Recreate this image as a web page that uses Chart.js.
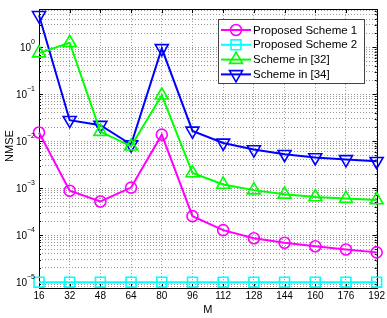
<!DOCTYPE html>
<html>
<head>
<meta charset="utf-8">
<script src="https://cdn.jsdelivr.net/npm/chart.js@4.4.1/dist/chart.umd.min.js"></script>
<style>
  html, body { margin: 0; padding: 0; background: #fff; }
  #c { display: block; }
</style>
</head>
<body>
<canvas id="c" width="387" height="318"></canvas>
<script>
// ---------- Data ----------
const mValues = [16, 32, 48, 64, 80, 96, 112, 128, 144, 160, 176, 192];
const proposed1 = [0.0153, 0.00088, 0.00052, 0.00103, 0.0138, 0.000254, 0.000128, 0.000086, 0.000069, 0.000058, 0.0000495, 0.000043];
const proposed2 = [1e-5, 1e-5, 1e-5, 1e-5, 1e-5, 1e-5, 1e-5, 1e-5, 1e-5, 1e-5, 1e-5, 1e-5];
const scheme32 = [0.75, 1.25, 0.016, 0.0078, 0.095, 0.0021, 0.0012, 0.00091, 0.00074, 0.00065, 0.0006, 0.00056];
const scheme34 = [4.8, 0.028, 0.022, 0.0085, 0.95, 0.0166, 0.0092, 0.00665, 0.00528, 0.0045, 0.0041, 0.00375];
const yDecades = [0, -1, -2, -3, -4, -5];
const seriesNames = ['Proposed Scheme 1', 'Proposed Scheme 2', 'Scheme in [32]', 'Scheme in [34]'];

const FONT = '"Liberation Sans", Arial, Helvetica, sans-serif';

// ---------- Helpers ----------
function drawMarker(ctx, style, x, y, r, rot) {
    ctx.beginPath();
    if (style === 'circle') {
        ctx.arc(x, y, r, 0, Math.PI * 2);
    } else if (style === 'rect') {
        const s = r * Math.SQRT1_2;
        ctx.rect(x - s, y - s, 2 * s, 2 * s);
    } else {
        let a = (rot || 0) * Math.PI / 180;
        for (let i = 0; i < 3; i++) {
            const px = x + Math.sin(a) * r, py = y - Math.cos(a) * r;
            if (i) ctx.lineTo(px, py); else ctx.moveTo(px, py);
            a += 2 * Math.PI / 3;
        }
        ctx.closePath();
    }
    ctx.stroke();
}

// matlab-ish frame: box, inward ticks, y labels with exponents, titles, legend
const matlabFrame = {
    id: 'matlabFrame',
    beforeDatasetsDraw(chart) {
        const ctx = chart.ctx;
        const a = chart.chartArea;
        const xs = chart.scales.x, ys = chart.scales.y;
        ctx.save();
        ctx.strokeStyle = '#000';
        ctx.lineWidth = 1;
        ctx.strokeRect(Math.round(a.left) + 0.5, Math.round(a.top) + 0.5,
            Math.round(a.right - a.left), Math.round(a.bottom - a.top));
        ctx.beginPath();
        mValues.forEach((m, i) => {
            const px = Math.round(xs.getPixelForValue(i)) + 0.5;
            ctx.moveTo(px, a.bottom); ctx.lineTo(px, a.bottom - 4);
            ctx.moveTo(px, a.top); ctx.lineTo(px, a.top + 4);
        });
        ys.ticks.forEach(t => {
            const py = Math.round(ys.getPixelForValue(t.value)) + 0.5;
            const major = Math.abs(Math.log10(t.value) - Math.round(Math.log10(t.value))) < 1e-9;
            const len = major ? 4 : 2;
            ctx.moveTo(a.left, py); ctx.lineTo(a.left + len, py);
            ctx.moveTo(a.right, py); ctx.lineTo(a.right - len, py);
        });
        ctx.stroke();
        ctx.restore();
    },
    afterDraw(chart) {
        const ctx = chart.ctx;
        const a = chart.chartArea;
        const ys = chart.scales.y;
        ctx.save();
        ctx.fillStyle = '#000';
        // y tick labels 10^k
        yDecades.forEach(e => {
            const py = ys.getPixelForValue(Math.pow(10, e));
            const sup = e < 0 ? '\u2212' + Math.abs(e) : String(e);
            ctx.font = '7px ' + FONT;
            const supW = ctx.measureText(sup).width;
            const right = a.left - 4;
            ctx.textBaseline = 'middle';
            ctx.textAlign = 'left';
            ctx.fillText(sup, right - supW, py - 5);
            ctx.font = '10px ' + FONT;
            ctx.textAlign = 'right';
            ctx.fillText('10', right - supW, py + 1);
        });
        // axis titles
        ctx.font = '11px ' + FONT;
        ctx.textAlign = 'center';
        ctx.textBaseline = 'middle';
        ctx.fillText('M', (a.left + a.right) / 2, 310);
        ctx.translate(10, 146);
        ctx.rotate(-Math.PI / 2);
        ctx.fillText('NMSE', 0, 0);
        ctx.setTransform(1, 0, 0, 1, 0, 0);

        // legend
        const bx = 218.5, by = 19.5, bw = 146, bh = 64;
        ctx.fillStyle = '#fff';
        ctx.fillRect(bx, by, bw, bh);
        ctx.strokeStyle = '#444';
        ctx.lineWidth = 1;
        ctx.strokeRect(bx, by, bw, bh);
        chart.data.datasets.forEach((ds, i) => {
            const cy = 30 + i * 14.8;
            ctx.strokeStyle = ds.borderColor;
            ctx.lineWidth = 2;
            ctx.beginPath();
            ctx.moveTo(221, cy); ctx.lineTo(251, cy);
            ctx.stroke();
            ctx.lineWidth = ds.pointBorderWidth;
            drawMarker(ctx, ds.pointStyle, 236, cy, ds.pointRadius, ds.pointRotation);
            ctx.fillStyle = '#000';
            ctx.font = '11.5px ' + FONT;
            ctx.textAlign = 'left';
            ctx.textBaseline = 'middle';
            ctx.fillText(ds.label, 253, cy + 0.5);
        });
        ctx.restore();
    }
};

// ---------- Chart ----------
function makeSeries(label, data, color, style, radius, rotation) {
    return {
        label: label,
        data: data,
        borderColor: color,
        backgroundColor: color,
        borderWidth: 2,
        pointStyle: style,
        pointRadius: radius,
        pointRotation: rotation || 0,
        pointBorderWidth: 1.6,
        pointBackgroundColor: 'rgba(0,0,0,0)',
        pointBorderColor: color,
        tension: 0,
        clip: false
    };
}

const ctx = document.getElementById('c').getContext('2d');
new Chart(ctx, {
    type: 'line',
    data: {
        labels: mValues,
        datasets: [
            makeSeries(seriesNames[0], proposed1, '#ff00ff', 'circle', 5.5),
            makeSeries(seriesNames[1], proposed2, '#00ffff', 'rect', 7),
            makeSeries(seriesNames[2], scheme32, '#00ff00', 'triangle', 7.5),
            makeSeries(seriesNames[3], scheme34, '#0000ff', 'triangle', 7.5, 180)
        ]
    },
    options: {
        responsive: false,
        animation: false,
        events: [],
        layout: { padding: { top: 8, right: 9, left: 0, bottom: 0 } },
        plugins: { legend: { display: false }, tooltip: { enabled: false } },
        scales: {
            x: {
                type: 'category',
                offset: false,
                grid: { color: '#9a9a9a', lineWidth: 1, drawTicks: false },
                border: { display: false, dash: [1, 2] },
                ticks: { color: '#000', font: { family: FONT, size: 10 }, padding: 2, maxRotation: 0, autoSkip: false },
                afterFit(scale) { scale.height = 30; }
            },
            y: {
                type: 'logarithmic',
                min: 7.5e-6,
                max: 6.5,
                grid: { color: '#9a9a9a', lineWidth: 1, drawTicks: false },
                border: { display: false, dash: [1, 2] },
                ticks: { display: false },
                afterBuildTicks(scale) {
                    const ticks = [];
                    for (let e = -6; e <= 1; e++) {
                        for (let k = 1; k <= 9; k++) {
                            const v = k * Math.pow(10, e);
                            if (v >= scale.min && v <= scale.max) ticks.push({ value: v });
                        }
                    }
                    scale.ticks = ticks;
                },
                afterFit(scale) { scale.width = 39; }
            }
        }
    },
    plugins: [matlabFrame]
});
</script>
</body>
</html>
